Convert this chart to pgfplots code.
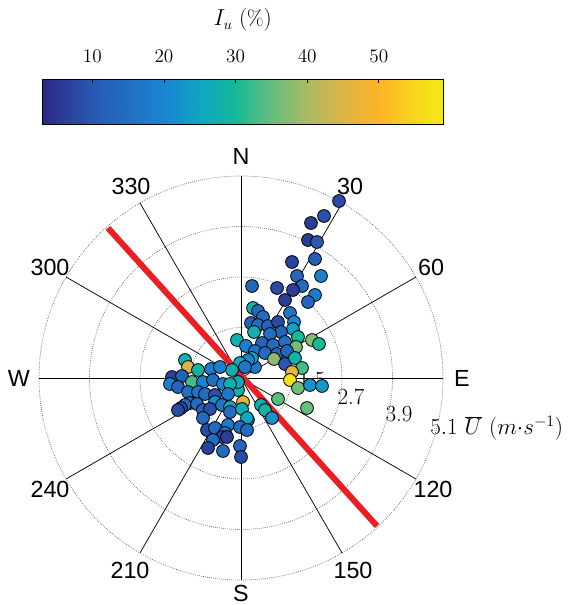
\documentclass[border=0pt]{standalone}
\usepackage{pgfplots}
\usepackage{pgfplotstable}
\usepackage{fontspec}
\pgfplotsset{compat=1.18}
\newfontfamily\arial{Liberation Sans}
\pgfplotsset{colormap={parula}{rgb255(0cm)=(45,40,130) rgb255(13cm)=(40,90,180) rgb255(31cm)=(25,135,210) rgb255(40cm)=(15,168,192) rgb255(48cm)=(20,185,150) rgb255(57cm)=(100,190,125) rgb255(66cm)=(170,185,100) rgb255(75cm)=(222,180,70) rgb255(84cm)=(252,180,40) rgb255(92cm)=(250,210,30) rgb255(100cm)=(242,235,22)}}
% pixel positions (x right, y down) and turbulence intensity I_u (%)
\pgfplotstableread{
x y c
339 201 8
324 216 9
311 223 6
308 240 6
317 242 10
315 259 11
292 262 7
297 276 13
321 276 19
302 286 14
252 286 13
277 288 8
293 290 6
315 295 18
285 300 6
308 302 13
253 308 28
258 311 14
263 317 14
251 323 12
258 325 14
268 326 12
278 322 8
290 313 16
294 322 20
293 329 24
298 337 30
312 340 37
319 344 30
281 332 13
270 334 15
254 332 28
262 343 13
273 345 14
285 342 15
296 347 36
237 340 27
246 346 19
255 351 16
265 353 14
277 354 13
287 351 13
274 359 38
285 364 10
295 358 28
302 368 33
292 372 46
290 380 57
298 388 36
310 385 22
322 386 23
255 367 17
252 358 24
248 360 20
240 363 26
245 367 17
232 370 27
278 399 34
307 408 35
243 402 47
261 405 27
265 410 28
272 418 22
248 420 22
238 390 28
238 382 26
185 360 27
188 367 45
198 370 28
211 369 18
220 367 19
172 377 7
182 376 12
170 384 19
178 387 13
192 382 33
203 382 19
213 380 15
223 384 20
230 384 27
188 392 15
198 392 16
205 394 14
215 395 9
228 394 17
190 403 14
185 405 14
197 404 14
181 408 8
178 410 8
203 410 12
215 402 21
210 409 9
222 405 16
230 407 26
230 412 15
242 409 27
247 418 25
203 418 14
207 430 8
215 428 14
228 425 18
225 433 16
222 437 7
227 437 6
213 440 14
208 448 7
223 451 14
240 427 14
247 430 14
240 446 13
241 457 8
}\datatable
\begin{document}
\begin{tikzpicture}
\begin{axis}[name=main, at={(0,0)}, anchor=south west,
  x=0.75pt, y=0.75pt, y dir=reverse,
  xmin=0, xmax=570, ymin=0, ymax=605,
  hide axis, clip=false,
  colormap name=parula,
  point meta min=3, point meta max=59,
]
% grid circles
\draw[black!70, densely dotted, line width=0.5pt] (axis cs:241,378) circle[radius=37.875pt];
\draw[black!70, densely dotted, line width=0.5pt] (axis cs:241,378) circle[radius=75.75pt];
\draw[black!70, densely dotted, line width=0.5pt] (axis cs:241,378) circle[radius=113.625pt];
\draw[black!70, densely dotted, line width=0.5pt] (axis cs:241,378) circle[radius=151.5pt];
% spokes
\pgfplotsinvokeforeach{0,30,60,90,120,150,180,210,240,270,300,330}{
  \draw[black, line width=0.55pt] (axis cs:241,378) -- ++({90-#1}:151.5pt);
}
% radial labels
\node[font=\fontsize{17.3}{19}\selectfont] at (axis cs:312,380) {1.5};
\node[font=\fontsize{17.3}{19}\selectfont] at (axis cs:351,397) {2.7};
\node[font=\fontsize{17.3}{19}\selectfont] at (axis cs:399,414) {3.9};
\node[font=\fontsize{17}{19}\selectfont, anchor=west, inner sep=0pt] at (axis cs:430,428) {$5.1\ \overline{U}\ (m{\cdot}s^{-1})$};
\addplot[scatter, only marks, mark=*, mark size=4.8pt,
  scatter/use mapped color={draw=black, fill=mapped color},
  mark options={line width=0.6pt},
  point meta=explicit] table[x=x, y=y, meta=c] {\datatable};
\addplot[color={rgb,255:red,235;green,30;blue,35}, line width=4.5pt] coordinates {(108,228) (377,526)};
% compass labels
\node[font=\arial\fontsize{17.5}{20}\selectfont] at (axis cs:241,156) {N};
\node[font=\arial\fontsize{17.5}{20}\selectfont] at (axis cs:350,186) {30};
\node[font=\arial\fontsize{17.5}{20}\selectfont] at (axis cs:431,267) {60};
\node[font=\arial\fontsize{17.5}{20}\selectfont] at (axis cs:462,378) {E};
\node[font=\arial\fontsize{17.5}{20}\selectfont] at (axis cs:433,489) {120};
\node[font=\arial\fontsize{17.5}{20}\selectfont] at (axis cs:353,570) {150};
\node[font=\arial\fontsize{17.5}{20}\selectfont] at (axis cs:241,593) {S};
\node[font=\arial\fontsize{17.5}{20}\selectfont] at (axis cs:130,570) {210};
\node[font=\arial\fontsize{17.5}{20}\selectfont] at (axis cs:50,489) {240};
\node[font=\arial\fontsize{17.5}{20}\selectfont] at (axis cs:19,378) {W};
\node[font=\arial\fontsize{17.5}{20}\selectfont] at (axis cs:50,267) {300};
\node[font=\arial\fontsize{17.5}{20}\selectfont] at (axis cs:131,186) {330};
\end{axis}
% colour bar
\begin{axis}[name=cb, at={(31.7pt,360.75pt)}, anchor=south west,
  width=300.75pt, height=33.75pt, scale only axis,
  xmin=3, xmax=59, ymin=0, ymax=1,
  clip=false,
  colormap name=parula,
  point meta min=3, point meta max=59,
  ytick=\empty,
  xtick={10,20,30,40,50},
  xticklabel pos=upper,
  xtick pos=right,
  tick align=inside,
  major tick length=3pt,
  tick style={black, line width=0.6pt},
  xticklabel style={font=\fontsize{15}{17}\selectfont, anchor=base, yshift=12pt},
  axis line style={black, line width=0.6pt},
  axis on top,
]
\addplot[surf, shader=interp, mesh/rows=2, point meta=x] coordinates {
(3,0) (10.28,0) (20.36,0) (25.4,0) (29.88,0) (34.92,0) (39.96,0) (45,0) (50.04,0) (54.52,0) (59,0)
(3,1) (10.28,1) (20.36,1) (25.4,1) (29.88,1) (34.92,1) (39.96,1) (45,1) (50.04,1) (54.52,1) (59,1)
};
\node[font=\fontsize{16}{18}\selectfont, anchor=base] at (axis description cs:0.5,1) [yshift=40pt] {$I_u\ (\%)$};
\end{axis}
\pgfresetboundingbox
\path (main.south west) rectangle (main.north east);
\end{tikzpicture}
\end{document}
